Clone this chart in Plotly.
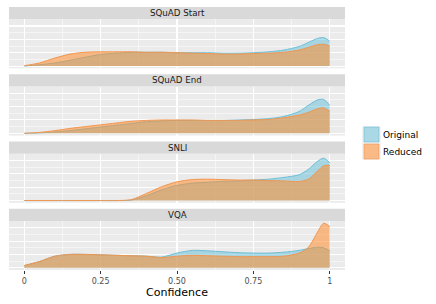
import plotly.graph_objects as go

# ---------------- data ----------------
facets = ["SQuAD Start", "SQuAD End", "SNLI", "VQA"]
series = ["Original", "Reduced"]
confidence = [0.0, 0.05, 0.1, 0.15, 0.2, 0.25, 0.3, 0.35, 0.4, 0.45, 0.5, 0.55,
              0.6, 0.65, 0.7, 0.75, 0.8, 0.85, 0.9, 0.93, 0.96, 0.98, 1.0]

squad_start_original = [0.0, 0.03, 0.07, 0.13, 0.2, 0.26, 0.29, 0.31, 0.31, 0.31, 0.3, 0.3,
                        0.3, 0.29, 0.29, 0.3, 0.32, 0.36, 0.44, 0.53, 0.62, 0.64, 0.56]
squad_start_reduced = [0.01, 0.07, 0.18, 0.27, 0.31, 0.32, 0.32, 0.32, 0.31, 0.31, 0.3, 0.29,
                       0.28, 0.27, 0.27, 0.28, 0.29, 0.31, 0.36, 0.42, 0.48, 0.49, 0.45]
squad_end_original = [0.0, 0.01, 0.03, 0.06, 0.1, 0.14, 0.18, 0.22, 0.26, 0.28, 0.29, 0.29,
                      0.29, 0.29, 0.3, 0.31, 0.33, 0.38, 0.49, 0.63, 0.75, 0.76, 0.63]
squad_end_reduced = [0.0, 0.02, 0.06, 0.11, 0.15, 0.19, 0.23, 0.27, 0.29, 0.3, 0.3, 0.3,
                     0.29, 0.29, 0.29, 0.3, 0.31, 0.35, 0.41, 0.47, 0.55, 0.57, 0.5]
snli_original = [0.0, 0.0, 0.0, 0.0, 0.0, 0.0, 0.0, 0.01, 0.11, 0.24, 0.34, 0.39,
                 0.41, 0.43, 0.44, 0.46, 0.48, 0.52, 0.58, 0.7, 0.88, 0.95, 0.85]
snli_reduced = [0.0, 0.0, 0.0, 0.0, 0.0, 0.0, 0.0, 0.02, 0.16, 0.31, 0.42, 0.47,
                0.48, 0.47, 0.46, 0.46, 0.45, 0.44, 0.43, 0.48, 0.66, 0.78, 0.79]
vqa_original = [0.05, 0.14, 0.26, 0.3, 0.3, 0.29, 0.28, 0.27, 0.26, 0.24, 0.33, 0.39,
                0.38, 0.36, 0.34, 0.33, 0.33, 0.35, 0.39, 0.43, 0.46, 0.45, 0.38]
vqa_reduced = [0.05, 0.14, 0.26, 0.3, 0.3, 0.29, 0.28, 0.27, 0.26, 0.23, 0.26, 0.28,
               0.27, 0.26, 0.25, 0.25, 0.25, 0.26, 0.33, 0.46, 0.8, 1.0, 0.93]

values = {
    "SQuAD Start": [squad_start_original, squad_start_reduced],
    "SQuAD End": [squad_end_original, squad_end_reduced],
    "SNLI": [snli_original, snli_reduced],
    "VQA": [vqa_original, vqa_reduced],
}
x_ticks = [0, 0.25, 0.5, 0.75, 1]
x_tick_labels = ["0", "0.25", "0.50", "0.75", "1"]

# ---------------- styling ----------------
W, H = 436, 304
ML, MR, MT, MB = 9, 91, 7, 34
plot_h = H - MT - MB
fills = ["rgba(97,189,213,0.5)", "rgba(255,140,45,0.55)"]
lines = ["rgba(110,190,215,1)", "rgba(240,150,80,1)"]
FONT = "DejaVu Sans"

strip_h = 12.3
panel_h = 49.0
gap = (plot_h - 4 * (strip_h + panel_h)) / 3


def py(y_px):
    """convert pixel y (from top of figure) to paper coordinate"""
    return (H - MB - y_px) / plot_h


fig = go.Figure()
shapes = []
annotations = []
layout_axes = {}

for i, facet in enumerate(facets):
    strip_top = MT + i * (strip_h + panel_h + gap)
    panel_top = strip_top + strip_h
    panel_bot = panel_top + panel_h
    xa = "x" if i == 0 else f"x{i+1}"
    ya = "y" if i == 0 else f"y{i+1}"
    for s, name in enumerate(series):
        fig.add_trace(go.Scatter(
            x=confidence, y=values[facet][s], name=name,
            mode="lines", fill="tozeroy", fillcolor=fills[s],
            line=dict(color=lines[s], width=1, shape="spline", smoothing=0.8),
            xaxis=xa, yaxis=ya, showlegend=False, hoverinfo="skip",
        ))
    bottom = i == len(facets) - 1
    layout_axes["xaxis" if i == 0 else f"xaxis{i+1}"] = dict(
        domain=[0, 1], anchor=ya, range=[-0.05, 1.05],
        tickvals=x_ticks, ticktext=x_tick_labels,
        showticklabels=bottom, ticks="outside" if bottom else "",
        ticklen=3, tickcolor="#333333", tickwidth=1,
        tickfont=dict(family=FONT, size=8, color="#4D4D4D"),
        showgrid=True, gridcolor="white", gridwidth=1.1,
        minor=dict(tickvals=[0.125, 0.375, 0.625, 0.875], showgrid=True,
                   gridcolor="white", gridwidth=0.5, ticks=""),
        zeroline=False, showline=False, fixedrange=True,
        title=dict(text="Confidence", font=dict(family=FONT, size=11, color="black"),
                   standoff=3) if bottom else None,
        automargin=False,
    )
    layout_axes["yaxis" if i == 0 else f"yaxis{i+1}"] = dict(
        domain=[py(panel_bot), py(panel_top)], anchor=xa, range=[-0.05, 1.05],
        dtick=0.3, tick0=0, showticklabels=False, ticks="",
        showgrid=True, gridcolor="white", gridwidth=1.1,
        minor=dict(dtick=0.15, tick0=0, showgrid=True, gridcolor="white",
                   gridwidth=0.5, ticks=""),
        zeroline=False, showline=False, fixedrange=True, automargin=False,
    )
    shapes.append(dict(type="rect", xref="paper", yref="paper",
                       x0=0, x1=1, y0=py(panel_top), y1=py(strip_top),
                       fillcolor="#D9D9D9", line=dict(width=0), layer="below"))
    annotations.append(dict(text=facet, xref="paper", yref="paper",
                            x=0.5, y=(py(panel_top) + py(strip_top)) / 2,
                            showarrow=False, xanchor="center", yanchor="middle",
                            font=dict(family=FONT, size=8.7, color="#1A1A1A")))

# manual legend (ggplot style keys)
key_x0 = (364 - ML) / (W - ML - MR)
key_x1 = (379 - ML) / (W - ML - MR)
key_tops = [127, 144]
for s, name in enumerate(series):
    shapes.append(dict(type="rect", xref="paper", yref="paper",
                       x0=key_x0 - 0.006, x1=key_x1 + 0.006,
                       y0=py(key_tops[s] + 16), y1=py(key_tops[s] - 1),
                       fillcolor="#F2F2F2", line=dict(width=0)))
    shapes.append(dict(type="rect", xref="paper", yref="paper",
                       x0=key_x0, x1=key_x1,
                       y0=py(key_tops[s] + 15), y1=py(key_tops[s]),
                       fillcolor=fills[s], line=dict(color=lines[s], width=0.6)))
    annotations.append(dict(text=name, xref="paper", yref="paper",
                            x=(381 - ML) / (W - ML - MR), y=py(key_tops[s] + 7.5),
                            showarrow=False, xanchor="left", yanchor="middle",
                            font=dict(family=FONT, size=9, color="black")))

fig.update_layout(
    width=W, height=H,
    margin=dict(l=ML, r=MR, t=MT, b=MB),
    paper_bgcolor="white", plot_bgcolor="#EBEBEB",
    shapes=shapes, annotations=annotations,
    showlegend=False,
    **layout_axes,
)

fig.write_html("out.html",
               config={"displayModeBar": False, "staticPlot": True},
               post_script="document.body.style.margin='0';document.body.style.padding='0';")
